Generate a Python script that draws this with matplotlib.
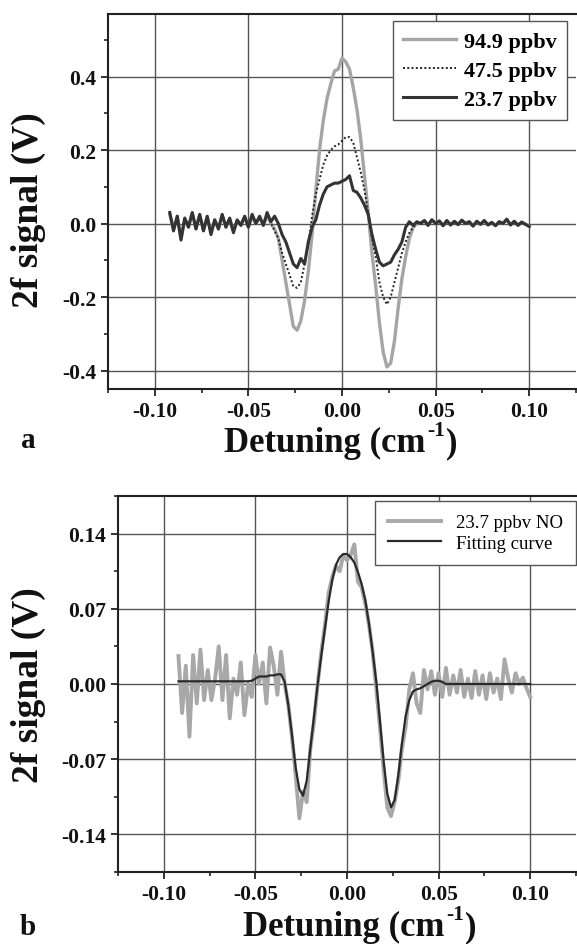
import numpy as np
import matplotlib
matplotlib.use("Agg")
import matplotlib.pyplot as plt
from matplotlib.ticker import MultipleLocator, FormatStrFormatter
from matplotlib.font_manager import FontProperties

plt.rcParams['font.family'] = ['Liberation Serif', 'DejaVu Serif']

# ---------------- data ----------------
# detuning grid (cm^-1), sampled every 0.002 from -0.092 to 0.100
detuning = np.round(np.linspace(-0.092, 0.100, 97), 3)

# panel a: 2f signals (V)
sig_949 = [
    0.025, -0.015, 0.02, -0.04, 0.012, -0.008, 0.028, -0.012, 0.022, -0.018,
    0.018, -0.025, 0.01, -0.012, 0.022, -0.008, 0.012, -0.02, 0.008, -0.004,
    0.018, -0.008, 0.02, 0.0, 0.016, -0.004, 0.022, 0.0,
    -0.015, -0.04, -0.10, -0.16, -0.22, -0.28, -0.29, -0.265, -0.21, -0.13,
    -0.03, 0.09, 0.20, 0.28, 0.34, 0.38, 0.415, 0.42, 0.45, 0.44,
    0.42, 0.37, 0.31, 0.23, 0.13, 0.03, -0.08, -0.17, -0.27, -0.35,
    -0.39, -0.38, -0.32, -0.23, -0.15, -0.09, -0.04, -0.01, 0.0,
    0.002, 0.008, -0.004, 0.01, 0.001, 0.007, -0.005, 0.008, -0.003, 0.006,
    -0.002, 0.009, 0.001, 0.005, -0.006, 0.006, -0.002, 0.008, -0.003, 0.003,
    -0.005, 0.005, 0.0, 0.011, -0.003, 0.006, -0.004, 0.004, -0.002, -0.007,
]
sig_475 = [
    0.028, -0.018, 0.018, -0.042, 0.014, -0.01, 0.029, -0.014, 0.024, -0.019,
    0.019, -0.028, 0.01, -0.014, 0.024, -0.01, 0.014, -0.023, 0.01, -0.005,
    0.019, -0.01, 0.023, 0.0, 0.018, -0.005, 0.026, 0.003,
    -0.02, -0.04, -0.08, -0.11, -0.14, -0.17, -0.175, -0.16, -0.11, -0.06,
    0.02, 0.08, 0.12, 0.16, 0.185, 0.20, 0.21, 0.215, 0.225, 0.235,
    0.235, 0.22, 0.18, 0.14, 0.09, 0.03, -0.04, -0.09, -0.16, -0.20,
    -0.22, -0.20, -0.16, -0.12, -0.08, -0.05, -0.025, -0.01, 0.0,
    0.0, 0.008, -0.005, 0.01, 0.0, 0.007, -0.006, 0.008, -0.004, 0.006,
    -0.003, 0.009, 0.0, 0.005, -0.007, 0.006, -0.002, 0.008, -0.004, 0.003,
    -0.006, 0.005, 0.0, 0.012, -0.004, 0.006, -0.005, 0.004, -0.002, -0.008,
]
sig_237 = [
    0.03, -0.02, 0.02, -0.045, 0.015, -0.01, 0.03, -0.015, 0.025, -0.02,
    0.02, -0.03, 0.01, -0.015, 0.025, -0.01, 0.015, -0.025, 0.01, -0.005,
    0.02, -0.01, 0.025, 0.0, 0.02, -0.005, 0.03, 0.005,
    0.02, 0.0, -0.03, -0.05, -0.08, -0.11, -0.12, -0.095, -0.11, -0.05,
    -0.01, 0.01, 0.05, 0.08, 0.10, 0.105, 0.11, 0.11, 0.115, 0.12,
    0.13, 0.09, 0.085, 0.07, 0.05, 0.025, -0.03, -0.07, -0.105, -0.115,
    -0.11, -0.105, -0.085, -0.07, -0.05, -0.01, 0.005, -0.005, 0.005,
    0.0, 0.008, -0.005, 0.01, 0.0, 0.007, -0.006, 0.008, -0.004, 0.006,
    -0.003, 0.009, 0.0, 0.005, -0.007, 0.006, -0.002, 0.008, -0.004, 0.003,
    -0.006, 0.005, 0.0, 0.012, -0.004, 0.006, -0.005, 0.004, -0.002, -0.008,
]

# panel b: measured 23.7 ppbv NO signal and fitting curve (V)
sig_no = [
    0.026, -0.027, 0.017, -0.049, 0.027, -0.018, 0.032, -0.015, 0.013, -0.015,
    0.005, 0.035, -0.015, 0.027, -0.032, 0.005, -0.01, 0.02, -0.029, 0.0,
    -0.012, 0.027, 0.0, 0.02, -0.018, 0.034, 0.017, -0.01, 0.03, 0.0,
    -0.02, -0.05, -0.085, -0.125, -0.10, -0.11, -0.06, -0.035, 0.0, 0.03,
    0.055, 0.085, 0.10, 0.11, 0.105, 0.12, 0.115, 0.12, 0.13, 0.095,
    0.09, 0.075, 0.055, 0.03, -0.005, -0.04, -0.08, -0.115, -0.123, -0.11,
    -0.09, -0.06, -0.04, -0.005, 0.01,
    -0.018, -0.027, 0.013, -0.005, 0.012, -0.01, 0.01, -0.012, 0.015, -0.01,
    0.008, -0.008, 0.013, -0.012, 0.005, -0.013, 0.012, -0.01, 0.008, -0.014,
    0.01, -0.008, 0.005, -0.014, 0.023, 0.005, -0.008, 0.01, 0.0, 0.006,
    -0.004, -0.012,
]
fit_no = [
    0.0025, 0.0025, 0.0025, 0.0025, 0.0025, 0.0025, 0.0025, 0.0025, 0.0025, 0.0025,
    0.0025, 0.0025, 0.0025, 0.0025, 0.0025, 0.0025, 0.0025, 0.0025, 0.0025, 0.0025,
    0.003, 0.005, 0.007, 0.007, 0.007, 0.008, 0.008, 0.009, 0.009, 0.002,
    -0.02, -0.048, -0.078, -0.098, -0.104, -0.09, -0.06, -0.03, 0.0, 0.027,
    0.052, 0.077, 0.097, 0.111, 0.118, 0.121, 0.121, 0.118, 0.113, 0.104,
    0.093, 0.078, 0.056, 0.03, 0.002, -0.035, -0.072, -0.102, -0.115, -0.108,
    -0.085, -0.055, -0.03, -0.015, -0.007, -0.005, -0.004, -0.002, 0.0, 0.002,
    0.003, 0.003, 0.002,
    0.0, 0.0, 0.0, 0.0, 0.0, 0.0, 0.0, 0.0, 0.0, 0.0, 0.0, 0.0,
    0.0, 0.0, 0.0, 0.0, 0.0, 0.0, 0.0, 0.0, 0.0, 0.0, 0.0, 0.0,
]

xticks = [-0.10, -0.05, 0.00, 0.05, 0.10]
yticks_a = [-0.4, -0.2, 0.0, 0.2, 0.4]
yticks_b = [-0.14, -0.07, 0.00, 0.07, 0.14]
labels_a = ['94.9 ppbv', '47.5 ppbv', '23.7 ppbv']
labels_b = ['23.7 ppbv NO', 'Fitting curve']

# ---------------- figure ----------------
W, H = 577, 945
fig = plt.figure(figsize=(W / 100, H / 100), dpi=100)

def pos(l, t, r, b):
    return [l / W, 1 - b / H, (r - l) / W, (b - t) / H]

ax1 = fig.add_axes(pos(108, 15, 576, 390))
ax2 = fig.add_axes(pos(118, 497, 576, 873))

tickfont = FontProperties(family='Liberation Serif', weight='bold', size=15.5)

def style(ax, yt, ymin, ymax, yminor, fmt):
    ax.set_xlim(-0.125, 0.125)
    ax.set_ylim(ymin, ymax)
    ax.set_xticks(xticks)
    ax.set_yticks(yt)
    ax.xaxis.set_minor_locator(MultipleLocator(0.025))
    ax.yaxis.set_minor_locator(MultipleLocator(yminor))
    ax.xaxis.set_major_formatter(FormatStrFormatter('%.2f'))
    ax.yaxis.set_major_formatter(FormatStrFormatter(fmt))
    ax.grid(True, which='major', color='#555555', lw=1.0)
    ax.set_axisbelow(True)
    for s in ax.spines.values():
        s.set_color('#222222')
        s.set_linewidth(1.5)
    ax.spines['right'].set_visible(False)
    ax.tick_params(which='major', direction='out', length=5, width=1.3,
                   colors='#222222', top=False, right=False, pad=3.5)
    ax.tick_params(which='minor', direction='out', length=3, width=1.2,
                   colors='#222222', top=False, right=False)
    for lab in ax.get_xticklabels() + ax.get_yticklabels():
        lab.set_fontproperties(tickfont)
        lab.set_color('#111111')

# panel a
ax1.plot(detuning, sig_949, color='#a5a5a5', lw=2.4, label=labels_a[0], zorder=3)
ax1.plot(detuning, sig_475, color='#222222', lw=1.4, ls=(0, (1, 1.2)), label=labels_a[1], zorder=4)
ax1.plot(detuning, sig_237, color='#333333', lw=2.2, label=labels_a[2], zorder=5)
style(ax1, yticks_a, -0.45, 0.57, 0.1, '%.1f')
leg1 = ax1.legend(loc='upper right', bbox_to_anchor=(0.98, 0.981), frameon=True,
                  fancybox=False, edgecolor='#555555', framealpha=1,
                  prop=dict(family='Liberation Serif', weight='bold', size=16),
                  handlelength=2.4, handletextpad=0.35, labelspacing=0.38,
                  borderpad=0.45, borderaxespad=0)
leg1.get_frame().set_linewidth(1.0)

# panel b
ax2.plot(detuning, sig_no, color='#a8a8a8', lw=2.8, label=labels_b[0], zorder=3)
ax2.plot(detuning, fit_no, color='#2a2a2a', lw=1.6, label=labels_b[1], zorder=4)
style(ax2, yticks_b, -0.175, 0.175, 0.035, '%.2f')
leg2 = ax2.legend(loc='upper right', bbox_to_anchor=(1.0, 0.987), frameon=True,
                  fancybox=False, edgecolor='#555555', framealpha=1,
                  prop=dict(family='Liberation Serif', size=13.5),
                  handlelength=2.8, handletextpad=0.8, labelspacing=0.2,
                  borderpad=0.7, borderaxespad=0)
leg2.get_frame().set_linewidth(1.0)

# axis labels: "Detuning (cm" + raised "-1" + ")"
renderer = fig.canvas.get_renderer()
lab_kw = dict(family='Liberation Serif', weight='bold', color='#111111')

def detuning_label(xc, yb, size):
    kw = dict(va='baseline', ha='left', **lab_kw)
    t1 = fig.text(0, 0, 'Detuning (cm', size=size, **kw)
    t2 = fig.text(0, 0, '-1', size=size * 0.62, **kw)
    t3 = fig.text(0, 0, ')', size=size, **kw)
    w1 = t1.get_window_extent(renderer).width
    w2 = t2.get_window_extent(renderer).width
    w3 = t3.get_window_extent(renderer).width
    gap = 1.5
    x0 = xc - (w1 + w2 + w3 + 2 * gap) / 2
    rise = size * 1.389 * 0.45
    t1.set_position((x0 / W, 1 - yb / H))
    t2.set_position(((x0 + w1 + gap) / W, 1 - (yb - rise) / H))
    t3.set_position(((x0 + w1 + w2 + 2 * gap) / W, 1 - yb / H))

detuning_label(341, 452, 25)
detuning_label(360, 936, 25)
fig.text(28 / W, 1 - 210 / H, '2f signal (V)', ha='center', va='center',
         rotation=90, size=27, **lab_kw)
fig.text(28 / W, 1 - 685 / H, '2f signal (V)', ha='center', va='center',
         rotation=90, size=27, **lab_kw)

# panel letters
fig.text(28 / W, 1 - 448 / H, 'a', ha='center', va='baseline', size=21, **lab_kw)
fig.text(28 / W, 1 - 935 / H, 'b', ha='center', va='baseline', size=21, **lab_kw)

fig.savefig('out.png', dpi=100)
